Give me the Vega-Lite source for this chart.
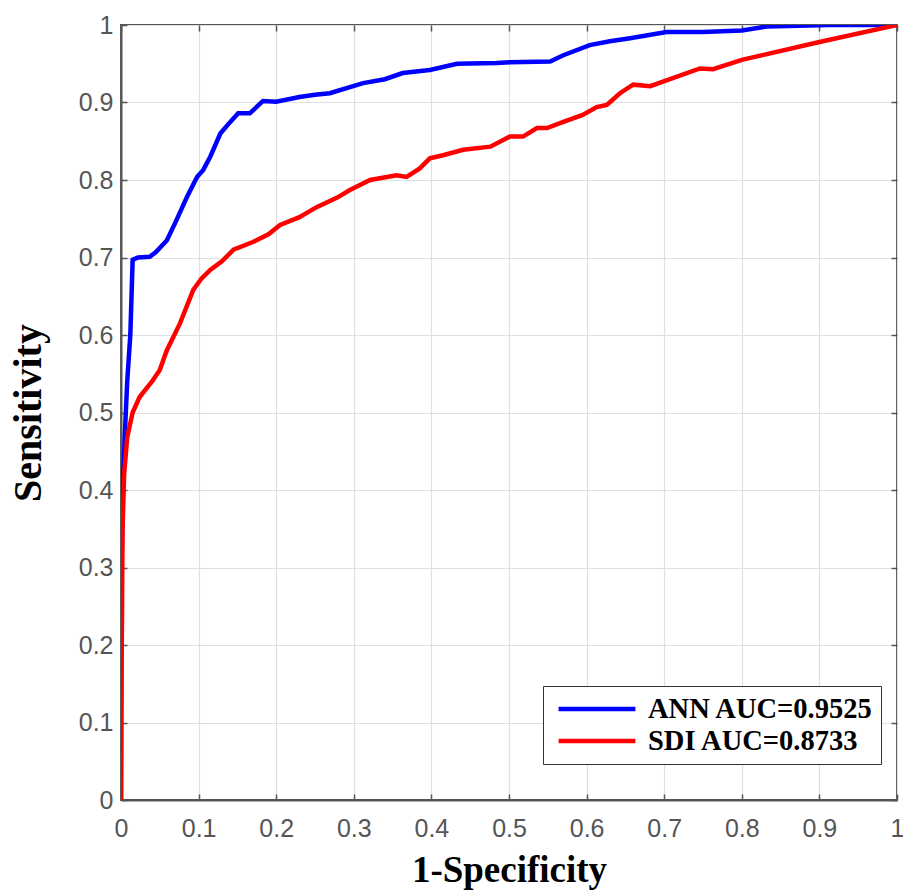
{
  "$schema": "https://vega.github.io/schema/vega-lite/v6.json",
  "width": 776,
  "height": 775,
  "autosize": {"type": "none"},
  "padding": {"left": 121, "top": 25, "right": 6, "bottom": 90},
  "background": "white",
  "config": {
    "view": {"stroke": "#555555", "strokeWidth": 2},
    "axis": {
      "gridColor": "#e0e0e0", "gridWidth": 1.2,
      "domainColor": "#555555", "domainWidth": 2,
      "tickColor": "#555555", "tickSize": -6, "tickWidth": 1.5,
      "labelColor": "#555555", "labelFont": "Liberation Sans", "labelFontSize": 25, "labelFlush": false,
      "titleFont": "Liberation Serif", "titleFontWeight": "bold", "titleColor": "#000000"
    }
  },
  "data": {"values": [
    {"i":0,"m":"ANN AUC=0.9525","x":0,"y":0},
    {"i":1,"m":"ANN AUC=0.9525","x":0,"y":0.2},
    {"i":2,"m":"ANN AUC=0.9525","x":0.001,"y":0.32},
    {"i":3,"m":"ANN AUC=0.9525","x":0.003,"y":0.42},
    {"i":4,"m":"ANN AUC=0.9525","x":0.005,"y":0.473},
    {"i":5,"m":"ANN AUC=0.9525","x":0.008,"y":0.54},
    {"i":6,"m":"ANN AUC=0.9525","x":0.012,"y":0.6},
    {"i":7,"m":"ANN AUC=0.9525","x":0.015,"y":0.697},
    {"i":8,"m":"ANN AUC=0.9525","x":0.022,"y":0.7},
    {"i":9,"m":"ANN AUC=0.9525","x":0.037,"y":0.701},
    {"i":10,"m":"ANN AUC=0.9525","x":0.045,"y":0.707},
    {"i":11,"m":"ANN AUC=0.9525","x":0.059,"y":0.722},
    {"i":12,"m":"ANN AUC=0.9525","x":0.07,"y":0.745},
    {"i":13,"m":"ANN AUC=0.9525","x":0.085,"y":0.778},
    {"i":14,"m":"ANN AUC=0.9525","x":0.098,"y":0.804},
    {"i":15,"m":"ANN AUC=0.9525","x":0.106,"y":0.813},
    {"i":16,"m":"ANN AUC=0.9525","x":0.115,"y":0.83},
    {"i":17,"m":"ANN AUC=0.9525","x":0.128,"y":0.86},
    {"i":18,"m":"ANN AUC=0.9525","x":0.14,"y":0.874},
    {"i":19,"m":"ANN AUC=0.9525","x":0.151,"y":0.886},
    {"i":20,"m":"ANN AUC=0.9525","x":0.166,"y":0.886},
    {"i":21,"m":"ANN AUC=0.9525","x":0.183,"y":0.902},
    {"i":22,"m":"ANN AUC=0.9525","x":0.2,"y":0.901},
    {"i":23,"m":"ANN AUC=0.9525","x":0.23,"y":0.907},
    {"i":24,"m":"ANN AUC=0.9525","x":0.25,"y":0.91},
    {"i":25,"m":"ANN AUC=0.9525","x":0.269,"y":0.912},
    {"i":26,"m":"ANN AUC=0.9525","x":0.312,"y":0.925},
    {"i":27,"m":"ANN AUC=0.9525","x":0.34,"y":0.93},
    {"i":28,"m":"ANN AUC=0.9525","x":0.363,"y":0.938},
    {"i":29,"m":"ANN AUC=0.9525","x":0.398,"y":0.942},
    {"i":30,"m":"ANN AUC=0.9525","x":0.433,"y":0.95},
    {"i":31,"m":"ANN AUC=0.9525","x":0.484,"y":0.951},
    {"i":32,"m":"ANN AUC=0.9525","x":0.501,"y":0.952},
    {"i":33,"m":"ANN AUC=0.9525","x":0.553,"y":0.953},
    {"i":34,"m":"ANN AUC=0.9525","x":0.57,"y":0.961},
    {"i":35,"m":"ANN AUC=0.9525","x":0.604,"y":0.974},
    {"i":36,"m":"ANN AUC=0.9525","x":0.63,"y":0.979},
    {"i":37,"m":"ANN AUC=0.9525","x":0.656,"y":0.983},
    {"i":38,"m":"ANN AUC=0.9525","x":0.703,"y":0.991},
    {"i":39,"m":"ANN AUC=0.9525","x":0.75,"y":0.991},
    {"i":40,"m":"ANN AUC=0.9525","x":0.8,"y":0.993},
    {"i":41,"m":"ANN AUC=0.9525","x":0.832,"y":0.998},
    {"i":42,"m":"ANN AUC=0.9525","x":0.913,"y":1.0},
    {"i":43,"m":"ANN AUC=0.9525","x":1,"y":1},
    {"i":0,"m":"SDI AUC=0.8733","x":0,"y":0},
    {"i":1,"m":"SDI AUC=0.8733","x":0.001,"y":0.2},
    {"i":2,"m":"SDI AUC=0.8733","x":0.002,"y":0.35},
    {"i":3,"m":"SDI AUC=0.8733","x":0.004,"y":0.42},
    {"i":4,"m":"SDI AUC=0.8733","x":0.008,"y":0.468},
    {"i":5,"m":"SDI AUC=0.8733","x":0.015,"y":0.5},
    {"i":6,"m":"SDI AUC=0.8733","x":0.024,"y":0.52},
    {"i":7,"m":"SDI AUC=0.8733","x":0.04,"y":0.54},
    {"i":8,"m":"SDI AUC=0.8733","x":0.05,"y":0.555},
    {"i":9,"m":"SDI AUC=0.8733","x":0.059,"y":0.58},
    {"i":10,"m":"SDI AUC=0.8733","x":0.076,"y":0.615},
    {"i":11,"m":"SDI AUC=0.8733","x":0.093,"y":0.658},
    {"i":12,"m":"SDI AUC=0.8733","x":0.103,"y":0.672},
    {"i":13,"m":"SDI AUC=0.8733","x":0.115,"y":0.684},
    {"i":14,"m":"SDI AUC=0.8733","x":0.13,"y":0.695},
    {"i":15,"m":"SDI AUC=0.8733","x":0.145,"y":0.71},
    {"i":16,"m":"SDI AUC=0.8733","x":0.17,"y":0.72},
    {"i":17,"m":"SDI AUC=0.8733","x":0.19,"y":0.73},
    {"i":18,"m":"SDI AUC=0.8733","x":0.205,"y":0.742},
    {"i":19,"m":"SDI AUC=0.8733","x":0.23,"y":0.752},
    {"i":20,"m":"SDI AUC=0.8733","x":0.252,"y":0.765},
    {"i":21,"m":"SDI AUC=0.8733","x":0.278,"y":0.777},
    {"i":22,"m":"SDI AUC=0.8733","x":0.295,"y":0.787},
    {"i":23,"m":"SDI AUC=0.8733","x":0.321,"y":0.8},
    {"i":24,"m":"SDI AUC=0.8733","x":0.355,"y":0.806},
    {"i":25,"m":"SDI AUC=0.8733","x":0.368,"y":0.804},
    {"i":26,"m":"SDI AUC=0.8733","x":0.385,"y":0.815},
    {"i":27,"m":"SDI AUC=0.8733","x":0.398,"y":0.828},
    {"i":28,"m":"SDI AUC=0.8733","x":0.415,"y":0.832},
    {"i":29,"m":"SDI AUC=0.8733","x":0.441,"y":0.839},
    {"i":30,"m":"SDI AUC=0.8733","x":0.476,"y":0.843},
    {"i":31,"m":"SDI AUC=0.8733","x":0.501,"y":0.856},
    {"i":32,"m":"SDI AUC=0.8733","x":0.518,"y":0.856},
    {"i":33,"m":"SDI AUC=0.8733","x":0.536,"y":0.867},
    {"i":34,"m":"SDI AUC=0.8733","x":0.549,"y":0.867},
    {"i":35,"m":"SDI AUC=0.8733","x":0.57,"y":0.875},
    {"i":36,"m":"SDI AUC=0.8733","x":0.595,"y":0.884},
    {"i":37,"m":"SDI AUC=0.8733","x":0.613,"y":0.894},
    {"i":38,"m":"SDI AUC=0.8733","x":0.626,"y":0.897},
    {"i":39,"m":"SDI AUC=0.8733","x":0.643,"y":0.912},
    {"i":40,"m":"SDI AUC=0.8733","x":0.66,"y":0.923},
    {"i":41,"m":"SDI AUC=0.8733","x":0.682,"y":0.921},
    {"i":42,"m":"SDI AUC=0.8733","x":0.746,"y":0.944},
    {"i":43,"m":"SDI AUC=0.8733","x":0.763,"y":0.943},
    {"i":44,"m":"SDI AUC=0.8733","x":0.8,"y":0.955},
    {"i":45,"m":"SDI AUC=0.8733","x":0.9,"y":0.978},
    {"i":46,"m":"SDI AUC=0.8733","x":1,"y":1}
  ]},
  "layer": [
    {
      "mark": {"type": "line", "strokeWidth": 4.5, "clip": true},
      "encoding": {
        "x": {"field": "x", "type": "quantitative", "scale": {"domain": [0, 1], "nice": false},
              "axis": {"title": "1-Specificity", "titleFontSize": 37, "values": [0,0.1,0.2,0.3,0.4,0.5,0.6,0.7,0.8,0.9,1], "labelExpr": "datum.value", "labelPadding": 22, "titlePadding": 11}},
        "y": {"field": "y", "type": "quantitative", "scale": {"domain": [0, 1], "nice": false},
              "axis": {"title": "Sensitivity", "titleFontSize": 40, "values": [0,0.1,0.2,0.3,0.4,0.5,0.6,0.7,0.8,0.9,1], "labelExpr": "datum.value", "labelPadding": 14, "titlePadding": 30}},
        "order": {"field": "i", "type": "quantitative"},
        "color": {"field": "m", "type": "nominal",
          "scale": {"domain": ["ANN AUC=0.9525", "SDI AUC=0.8733"], "range": ["#0000ff", "#ff0000"]},
          "legend": {
            "title": null, "orient": "none", "legendX": 422, "legendY": 661,
            "symbolType": "stroke", "symbolSize": 5900, "symbolStrokeWidth": 4.5,
            "labelFont": "Liberation Serif", "labelFontWeight": "bold", "labelFontSize": 28.5, "labelColor": "#000000",
            "labelOffset": 10, "labelLimit": 400, "rowPadding": 0, "clipHeight": 32,
            "padding": 7, "fillColor": "white", "strokeColor": "#333333",
            "symbolOffset": 6
          }
        }
      }
    },
    {
      "mark": {"type": "line", "opacity": 0},
      "encoding": {
        "x": {"field": "x", "type": "quantitative", "axis": {"orient": "top", "labels": false, "title": null, "grid": false, "domain": false, "values": [0,0.1,0.2,0.3,0.4,0.5,0.6,0.7,0.8,0.9,1]}},
        "y": {"field": "y", "type": "quantitative", "axis": {"orient": "right", "labels": false, "title": null, "grid": false, "domain": false, "values": [0,0.1,0.2,0.3,0.4,0.5,0.6,0.7,0.8,0.9,1]}},
        "detail": {"field": "m"}
      }
    }
  ],
  "resolve": {"axis": {"x": "independent", "y": "independent"}}
}
